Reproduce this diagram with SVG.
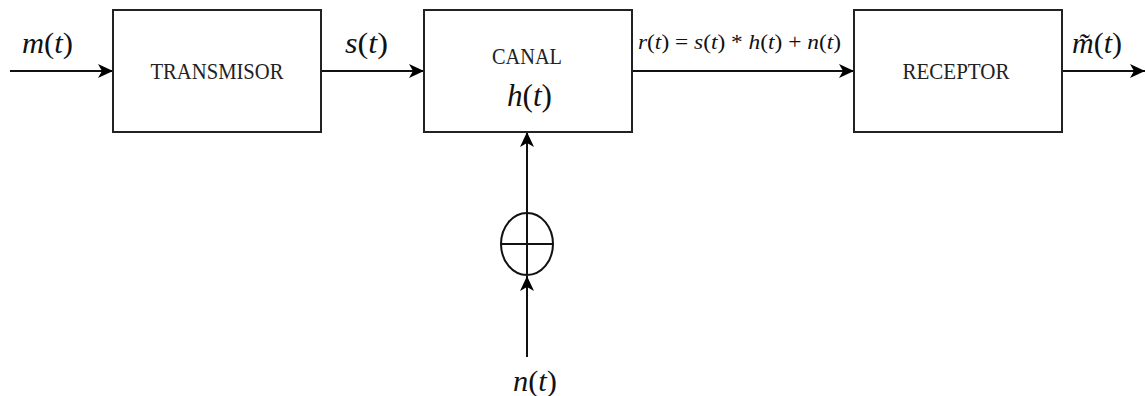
<svg xmlns="http://www.w3.org/2000/svg" width="1145" height="396" viewBox="0 0 1145 396">
<style>
.box{fill:#fff;stroke:#222;stroke-width:2}
.ln{fill:none;stroke:#111;stroke-width:2}
.lbl{font-family:"Liberation Serif","Times New Roman",serif;fill:#222;text-anchor:middle}
.m{font-family:"Liberation Serif","Times New Roman",serif;fill:#111}
.i{font-style:italic}
</style>
<defs>
<marker id="ar" markerUnits="userSpaceOnUse" markerWidth="16" markerHeight="14" refX="15" refY="7" orient="auto">
<path d="M0,0 L15,7 L0,14 L4,7 z" fill="#000"/>
</marker>
</defs>
<rect width="1145" height="396" fill="#fff"/>
<g id="connectors">
<line class="ln" x1="10" y1="71" x2="113" y2="71" marker-end="url(#ar)"/>
<line class="ln" x1="321" y1="71" x2="424" y2="71" marker-end="url(#ar)"/>
<line class="ln" x1="632" y1="71" x2="854" y2="71" marker-end="url(#ar)"/>
<line class="ln" x1="1062" y1="71" x2="1145" y2="71" marker-end="url(#ar)"/>
<line class="ln" x1="527" y1="213" x2="527" y2="132" marker-end="url(#ar)"/>
<line class="ln" x1="527" y1="357" x2="527" y2="276" marker-end="url(#ar)"/>
</g>
<g id="transmisor">
<rect class="box" x="113" y="10" width="208" height="122"/>
<text class="lbl" x="217" y="79" font-size="24" textLength="133" lengthAdjust="spacingAndGlyphs">TRANSMISOR</text>
</g>
<g id="canal">
<rect class="box" x="424" y="10" width="208" height="122"/>
<text class="lbl" x="527" y="64" font-size="24" textLength="70" lengthAdjust="spacingAndGlyphs">CANAL</text>
<text class="m" x="507" y="106" font-size="31" textLength="45" lengthAdjust="spacingAndGlyphs"><tspan class="i">h</tspan>(<tspan class="i">t</tspan>)</text>
</g>
<g id="receptor">
<rect class="box" x="854" y="10" width="208" height="122"/>
<text class="lbl" x="956" y="79" font-size="24" textLength="107" lengthAdjust="spacingAndGlyphs">RECEPTOR</text>
</g>
<g id="sumador">
<ellipse class="ln" cx="527" cy="244" rx="26" ry="31"/>
<line class="ln" x1="501" y1="244" x2="553" y2="244"/>
<line class="ln" x1="527" y1="213" x2="527" y2="275"/>
</g>
<g id="labels">
<text class="m" x="22" y="53" font-size="29" textLength="51" lengthAdjust="spacingAndGlyphs"><tspan class="i">m</tspan>(<tspan class="i">t</tspan>)</text>
<text class="m" x="345" y="53" font-size="29" textLength="43" lengthAdjust="spacingAndGlyphs"><tspan class="i">s</tspan>(<tspan class="i">t</tspan>)</text>
<text class="m" x="638" y="49" font-size="22" textLength="203" lengthAdjust="spacingAndGlyphs"><tspan class="i">r</tspan>(<tspan class="i">t</tspan>) = <tspan class="i">s</tspan>(<tspan class="i">t</tspan>) * <tspan class="i">h</tspan>(<tspan class="i">t</tspan>) + <tspan class="i">n</tspan>(<tspan class="i">t</tspan>)</text>
<text class="m" x="1072" y="53" font-size="29" textLength="50" lengthAdjust="spacingAndGlyphs"><tspan class="i">m̃</tspan>(<tspan class="i">t</tspan>)</text>
<text class="m" x="513" y="391" font-size="29" textLength="44" lengthAdjust="spacingAndGlyphs"><tspan class="i">n</tspan>(<tspan class="i">t</tspan>)</text>
</g>
</svg>
